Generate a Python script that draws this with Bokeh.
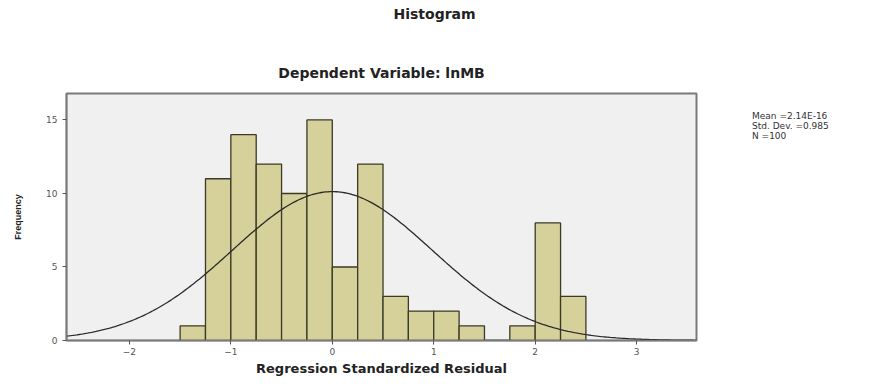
import numpy as np
from bokeh.plotting import figure
from bokeh.models import FixedTicker, Range1d, Title, Legend, LegendItem
from bokeh.embed import file_html
from bokeh.resources import INLINE

# Data
bin_left = [-1.5, -1.25, -1.0, -0.75, -0.5, -0.25, 0.0, 0.25, 0.5, 0.75, 1.0, 1.25, 1.5, 1.75, 2.0, 2.25]
bin_width = 0.25
counts = [1, 11, 14, 12, 10, 15, 5, 12, 3, 2, 2, 1, 0, 1, 8, 3]
x_ticks = [-2, -1, 0, 1, 2, 3]
y_ticks = [0, 5, 10, 15]
mean_val = 0.0
sd_val = 0.985
n_val = 100
stats_lines = ["Mean =2.14E-16", "Std. Dev. =0.985", "N =100"]

x_lo, x_hi = -2.62, 3.59
y_lo, y_hi = 0.0, 16.8

p = figure(frame_width=630, frame_height=247, output_backend="svg", toolbar_location=None,
           x_range=Range1d(x_lo, x_hi), y_range=Range1d(y_lo, y_hi),
           min_border_left=66, min_border_right=170, min_border_top=93, min_border_bottom=34)

p.background_fill_color = "#F0F0F0"
p.border_fill_color = "white"
p.outline_line_color = "#7a7a7a"
p.outline_line_width = 2
p.grid.visible = False

left = np.array(bin_left)
right = left + bin_width
p.quad(left=left, right=right, bottom=0, top=counts,
       fill_color="#D6D09A", line_color="#3a3a26", line_width=1.3)

xs = np.linspace(x_lo, x_hi, 300)
ys = n_val * bin_width * np.exp(-0.5 * ((xs - mean_val) / sd_val) ** 2) / (sd_val * np.sqrt(2 * np.pi))
p.line(xs, ys, line_color="#2a2a2a", line_width=1.3)

p.xaxis.ticker = FixedTicker(ticks=x_ticks)
p.yaxis.ticker = FixedTicker(ticks=y_ticks)
p.xaxis.major_label_overrides = {t: ("\u2212" + str(-t) if t < 0 else str(t)) for t in x_ticks}
for ax in (p.xaxis[0], p.yaxis[0]):
    ax.axis_line_color = "#7a7a7a"
    ax.axis_line_width = 1.5
    ax.major_tick_line_color = "#555555"
    ax.major_tick_out = 4
    ax.major_tick_in = 0
    ax.minor_tick_line_color = None
    ax.major_label_text_font = "DejaVu Sans"
    ax.major_label_text_font_size = "9px"
    ax.major_label_text_color = "#555555"
p.xaxis.major_label_standoff = 3

p.xaxis.axis_label = "Regression Standardized Residual"
p.xaxis.axis_label_text_font = "DejaVu Sans"
p.xaxis.axis_label_text_font_style = "bold"
p.xaxis.axis_label_text_font_size = "13px"
p.xaxis.axis_label_text_color = "#222222"
p.xaxis.axis_label_standoff = 3

p.yaxis.axis_label = "Frequency"
p.yaxis.axis_label_text_font = "Liberation Sans"
p.yaxis.axis_label_text_font_style = "bold"
p.yaxis.axis_label_text_font_size = "9px"
p.yaxis.axis_label_text_color = "#222222"
p.yaxis.axis_label_standoff = 20

# Titles (stacked above the frame)
p.add_layout(Title(text="Dependent Variable: lnMB", align="center", text_font="DejaVu Sans",
                   text_font_style="bold", text_font_size="14px", text_color="#222222",
                   standoff=25), "above")
p.add_layout(Title(text=" ", align="center", text_font_size="24px", standoff=0), "above")
p.add_layout(Title(text="Histogram", align="left", offset=327, text_font="DejaVu Sans",
                   text_font_style="bold", text_font_size="14px", text_color="#222222",
                   standoff=0), "above")

# Stats box as a borderless legend in the right panel
ghost = p.scatter([0], [0], size=0, fill_alpha=0, line_alpha=0)
legend = Legend(items=[LegendItem(label=s, renderers=[ghost]) for s in stats_lines],
                location="top_left", margin=18, padding=0, spacing=-2,
                glyph_width=38, glyph_height=6, label_height=6, label_standoff=0,
                border_line_color=None, background_fill_alpha=0,
                label_text_font="DejaVu Sans", label_text_font_size="9px",
                label_text_color="#333333")
p.add_layout(legend, "right")

open("out.html", "w").write(file_html(p, INLINE))
